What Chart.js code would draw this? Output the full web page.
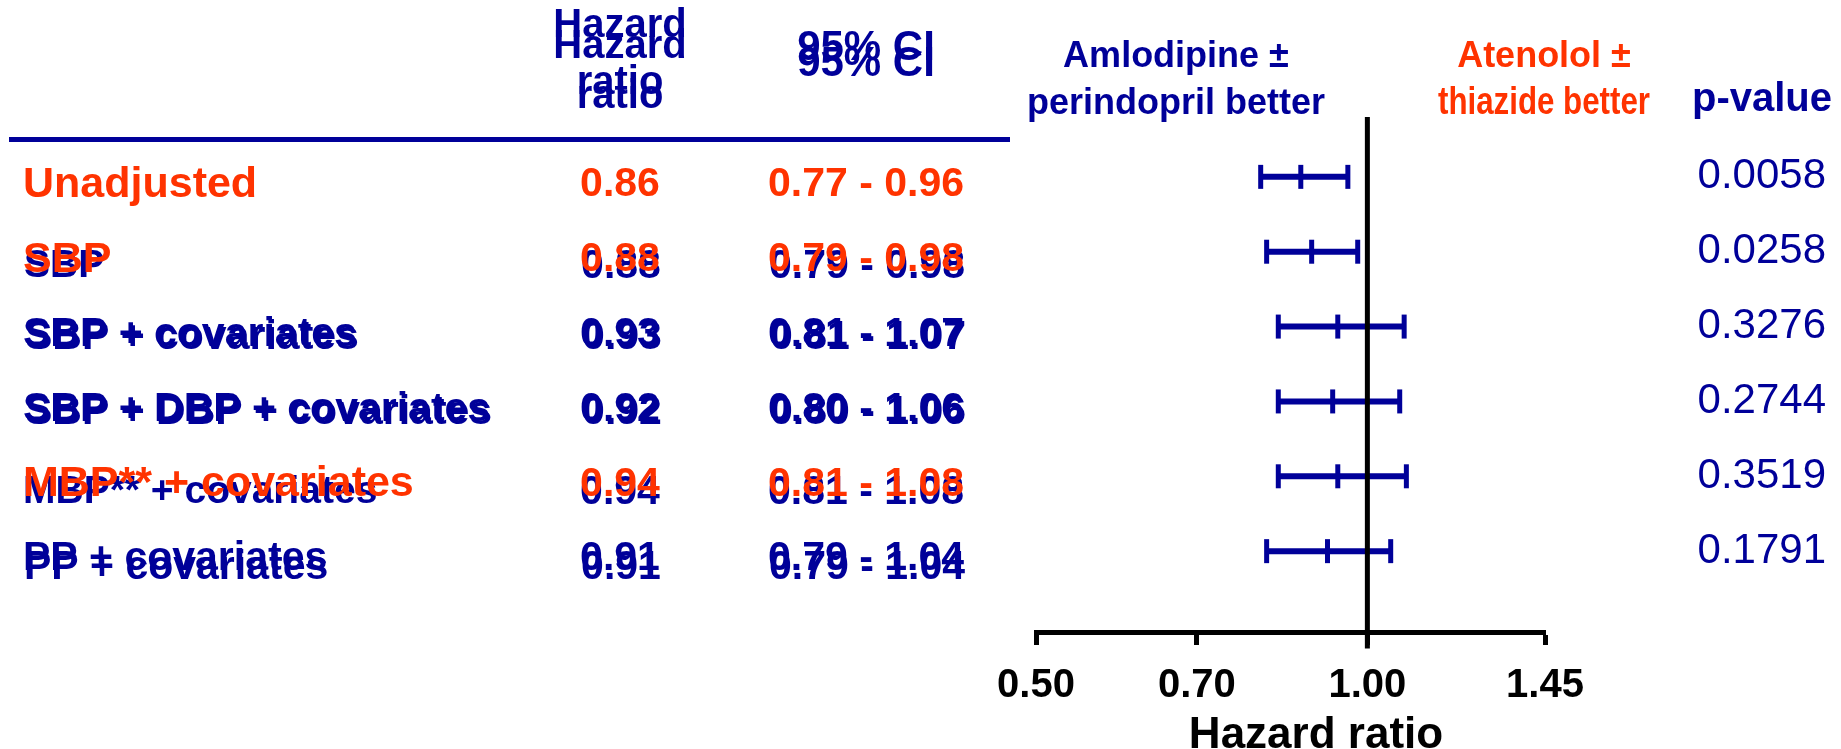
<!DOCTYPE html>
<html>
<head>
<meta charset="utf-8">
<title>Hazard ratio by blood pressure adjustment</title>
<script src="https://cdn.jsdelivr.net/npm/chart.js@4.4.1/dist/chart.umd.min.js"></script>
<style>
  html, body { margin: 0; padding: 0; background: #fff; }
  #wrap { width: 1841px; height: 749px; }
</style>
</head>
<body>
<div id="wrap"><canvas id="forestChart" width="1841" height="749"></canvas></div>
<script>
var models = ['Unadjusted', 'SBP', 'SBP + covariates', 'SBP + DBP + covariates', 'MBP** + covariates', 'PP + covariates'];
var hrText = ['0.86', '0.88', '0.93', '0.92', '0.94', '0.91'];
var ciText = ['0.77 - 0.96', '0.79 - 0.98', '0.81 - 1.07', '0.80 - 1.06', '0.81 - 1.08', '0.79 - 1.04'];
var pValues = ['0.0058', '0.0258', '0.3276', '0.2744', '0.3519', '0.1791'];

// where the bars are actually drawn in the figure
var hrPlot = [0.87, 0.89, 0.94, 0.93, 0.94, 0.92];
var ciLow = [0.80, 0.81, 0.83, 0.83, 0.83, 0.81];
var ciHigh = [0.96, 0.98, 1.08, 1.07, 1.085, 1.05];

var highlighted = [true, true, false, false, true, false];
var xTicks = [0.50, 0.70, 1.00, 1.45];

var navy = '#000099';
var orange = '#ff3300';
var sans = '"Liberation Sans", Arial, sans-serif';

var datasets = [{
    label: 'no effect',
    data: [{x: 1, y: -0.8}, {x: 1, y: 6.3}],
    showLine: true,
    borderColor: '#000',
    borderWidth: 5,
    pointRadius: 0,
    clip: false
}];

var i;
for (i = 0; i < models.length; i++) {
    datasets.push({
        label: models[i],
        data: [{x: ciLow[i], y: i}, {x: ciHigh[i], y: i}],
        showLine: true,
        borderColor: navy,
        borderWidth: 6,
        pointStyle: 'line',
        pointRotation: 90,
        pointRadius: 12,
        pointBorderWidth: 5,
        pointBorderColor: navy
    });
}

datasets.push({
    label: 'Hazard ratio',
    data: hrPlot.map(function (v, k) { return {x: v, y: k}; }),
    pointStyle: 'line',
    pointRotation: 90,
    pointRadius: 12,
    pointBorderWidth: 5,
    pointBorderColor: navy,
    borderColor: navy
});

// ghost copies left over in the source slide (vertical / horizontal shift)
var ghostDy = [0, 7, 3, 3, 8, 9];
var ghostDx = [0, 1, 2, 2, 0, 1];

function txt(ctx, s, x, y, font, color, align, maxW) {
    ctx.font = font;
    ctx.fillStyle = color;
    ctx.textAlign = align || 'center';
    ctx.textBaseline = 'middle';
    if (maxW) {
        ctx.fillText(s, x, y, maxW);
    } else {
        ctx.fillText(s, x, y);
    }
}

var tablePlugin = {
    id: 'table',
    afterDraw: function (chart) {
        var ctx = chart.ctx;
        var yScale = chart.scales.y;
        ctx.save();

        // column headers (two overlapping copies, as in the source)
        txt(ctx, 'Hazard', 620, 26, 'bold 40px ' + sans, navy);
        txt(ctx, 'ratio', 620, 83, 'bold 40px ' + sans, navy);
        txt(ctx, 'Hazard', 620, 47, 'bold 40px ' + sans, navy);
        txt(ctx, 'ratio', 620, 97, 'bold 40px ' + sans, navy);
        txt(ctx, '95% CI', 866, 48, 'bold 42px ' + sans, navy);
        txt(ctx, '95% CI', 866, 64, 'bold 42px ' + sans, navy);

        ctx.fillStyle = navy;
        ctx.fillRect(9, 137, 1001, 5);

        txt(ctx, 'Amlodipine \u00b1', 1176, 57, 'bold 36px ' + sans, navy);
        txt(ctx, 'perindopril better', 1176, 104, 'bold 36px ' + sans, navy, 'center', 303);
        txt(ctx, 'Atenolol \u00b1', 1544, 57, 'bold 36px ' + sans, orange);
        txt(ctx, 'thiazide better', 1544, 104, 'bold 38px ' + sans, orange, 'center', 212);
        txt(ctx, 'p-value', 1762, 100, 'bold 40px ' + sans, navy);

        for (var r = 0; r < models.length; r++) {
            var yBar = yScale.getPixelForValue(r);
            var y = yBar + 8;
            var hi = highlighted[r];
            var mainFont = 'bold ' + (hi ? 43 : 41) + 'px ' + sans;
            var ghostFont = 'bold ' + (hi ? 39 : 41) + 'px ' + sans;
            if (ghostDy[r]) {
                var gx = ghostDx[r], gy = ghostDy[r];
                txt(ctx, models[r], 23 + gx, y + gy, ghostFont, navy, 'left');
                txt(ctx, hrText[r], 620 + gx, y + gy, 'bold 41px ' + sans, navy);
                txt(ctx, ciText[r], 866 + gx, y + gy, 'bold 41px ' + sans, navy);
            }
            txt(ctx, models[r], 23, y, mainFont, hi ? orange : navy, 'left');
            txt(ctx, hrText[r], 620, y, 'bold 41px ' + sans, hi ? orange : navy);
            txt(ctx, ciText[r], 866, y, 'bold 41px ' + sans, hi ? orange : navy);
            txt(ctx, pValues[r], 1826, yBar, '42px ' + sans, navy, 'right');
        }

        txt(ctx, 'Hazard ratio', 1316, 736, 'bold 44px ' + sans, '#000');
        ctx.restore();
    }
};

var ctx = document.getElementById('forestChart').getContext('2d');
new Chart(ctx, {
    type: 'scatter',
    data: {datasets: datasets},
    options: {
        responsive: false,
        animation: false,
        events: [],
        layout: {padding: {left: 1036, right: 296, top: 102, bottom: 0}},
        plugins: {legend: {display: false}, tooltip: {enabled: false}},
        scales: {
            x: {
                type: 'logarithmic',
                min: 0.5,
                max: 1.45,
                bounds: 'data',
                afterBuildTicks: function (scale) {
                    scale.ticks = xTicks.map(function (v) { return {value: v}; });
                },
                afterFit: function (scale) { scale.height = 117; },
                border: {display: true, color: '#000', width: 5},
                grid: {display: true, drawOnChartArea: false, drawTicks: true, tickLength: 13, tickWidth: 5, tickColor: '#000'},
                ticks: {
                    autoSkip: false,
                    maxRotation: 0,
                    padding: 17,
                    color: '#000',
                    font: {family: sans, size: 40, weight: 'bold'},
                    callback: function (value) { return Number(value).toFixed(2); }
                }
            },
            y: {
                type: 'linear',
                display: false,
                reverse: true,
                min: -1,
                max: 6.08
            }
        }
    },
    plugins: [tablePlugin]
});
</script>
</body>
</html>
